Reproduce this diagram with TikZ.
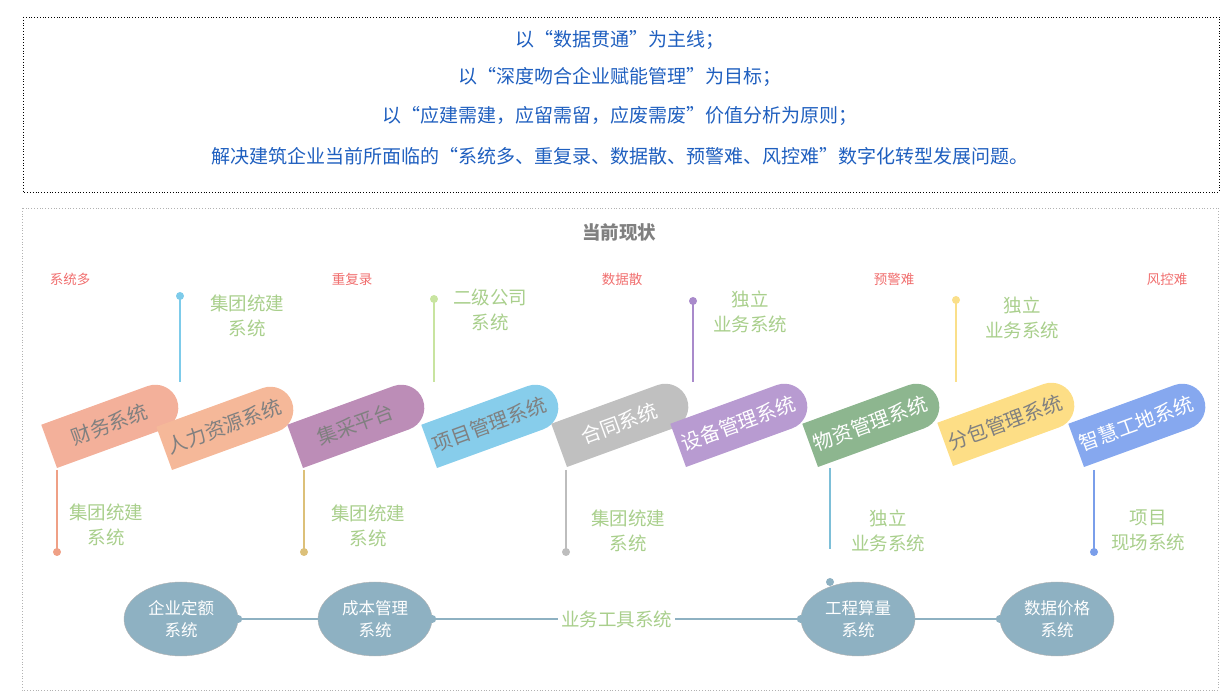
\documentclass[tikz,border=0pt]{standalone}
\usepackage{fontspec}
\usetikzlibrary{shapes.geometric}
\setmainfont{Noto Sans CJK SC}
\begin{document}
\begin{tikzpicture}[x=1pt,y=1pt,
  lbl/.style={text=lgreen,font=\fontsize{18.5}{25}\selectfont,align=center},
  red/.style={text=redc,font=\fontsize{13.5}{16}\selectfont},
  ell/.style={ellipse,draw=gray!60,fill=ellc,minimum width=114,minimum height=74,align=center,font=\fontsize{16.5}{22}\selectfont,text=white,inner sep=0},
  dot/.style={circle,fill=#1,inner sep=0,minimum size=8}]
\definecolor{lgreen}{HTML}{A9CF8C}
\definecolor{redc}{HTML}{F06E6E}
\definecolor{ellc}{HTML}{8EB1C2}
\definecolor{bluet}{HTML}{1F5FBF}
\definecolor{c1}{HTML}{F3B09A}\definecolor{c2}{HTML}{F5B899}\definecolor{c3}{HTML}{BC8DB7}
\definecolor{c4}{HTML}{87CDEB}\definecolor{c5}{HTML}{C0C0C0}\definecolor{c6}{HTML}{B89BD1}
\definecolor{c7}{HTML}{8DB68F}\definecolor{c8}{HTML}{FDDE86}\definecolor{c9}{HTML}{86A8EF}
\definecolor{l1}{HTML}{7DCBEA}\definecolor{l2}{HTML}{C8E4A0}\definecolor{l3}{HTML}{A98ACB}\definecolor{l4}{HTML}{FADF8A}
\definecolor{b1}{HTML}{EFA086}\definecolor{b2}{HTML}{DCC079}\definecolor{b3}{HTML}{BDBDBD}\definecolor{b4}{HTML}{7DBFD8}\definecolor{b5}{HTML}{7A9EEA}
\useasboundingbox (0,0) rectangle (1228,700);
\newcommand\pill[6]{%
 \begin{scope}[shift={(#1,{700-#2})},rotate=20]
  \fill[#3] (0,0) -- (113,0) arc[start angle=-90,end angle=90,radius=23] -- (0,46) -- cycle;
  \node[text=#4,font=\fontsize{20}{22}\selectfont,rotate=20,inner sep=0] (#6) at (64,23) {#5};
 \end{scope}}
% top box
\draw[dotted,thick] (23,683) rectangle (1219,508);
\foreach \t/\y in {以“数据贯通”为主线；/40,以“深度吻合企业赋能管理”为目标；/77,以“应建需建，应留需留，应废需废”价值分析为原则；/116,解决建筑企业当前所面临的“系统多、重复录、数据散、预警难、风控难”数字化转型发展问题。/156}
  \node[text=bluet,font=\fontsize{19}{22}\selectfont] at (620,700-\y) {\t};
% lower box
\draw[dotted,gray!60,thick] (22,492) rectangle (1218,10);
\node[text=gray,font=\bfseries\fontsize{18.5}{22}\selectfont] (title) at (619,468) {当前现状};
\foreach \t/\x in {系统多/70,重复录/352,数据散/622,预警难/894,风控难/1167}
  \node[red] at (\x,421) {\t};
% top lines
\foreach \x/\y/\c in {180/296/l1,434/299/l2,693/301/l3,956/300/l4}{
  \draw[\c,line width=1.3] (\x,700-\y) -- (\x,700-382);
  \node[dot=\c] at (\x,700-\y) {};}
\node[lbl] (t1) at (247,384) {集团统建\\系统};
\node[lbl] (t2) at (490,390) {二级公司\\系统};
\node[lbl] (t3) at (750,388) {独立\\业务系统};
\node[lbl] (t4) at (1022,382) {独立\\业务系统};
% bottom lines
\foreach \x/\y/\c in {57/552/b1,304/552/b2,566/552/b3,1094/552/b5}{
  \draw[\c,line width=1.3] (\x,700-470) -- (\x,700-\y);
  \node[dot=\c] at (\x,700-\y) {};}
\draw[b4,line width=1.3] (830,700-468) -- (830,700-549);
\node[lbl] (u1) at (106,175) {集团统建\\系统};
\node[lbl] (u2) at (368,174) {集团统建\\系统};
\node[lbl] (u3) at (628,169) {集团统建\\系统};
\node[lbl] (u4) at (888,169) {独立\\业务系统};
\node[lbl] (u5) at (1148,170) {项目\\现场系统};
% pills
\pill{57}{468}{c1}{gray}{财务系统}{p1}
\pill{172}{470}{c2}{gray}{人力资源系统}{p2}
\pill{303}{468}{c3}{gray}{集采平台}{p3}
\pill{437}{468}{c4}{gray}{项目管理系统}{p4}
\pill{567}{467}{c5}{white}{合同系统}{p5}
\pill{686}{467}{c6}{white}{设备管理系统}{p6}
\pill{818}{467}{c7}{white}{物资管理系统}{p7}
\pill{953}{466}{c8}{gray}{分包管理系统}{p8}
\pill{1084}{467}{c9}{white}{智慧工地系统}{p9}
% ellipses
\node[ell] (e1) at (181,81) {企业定额\\系统};
\node[ell] (e2) at (375,81) {成本管理\\系统};
\node[ell] (e3) at (858,81) {工程算量\\系统};
\node[ell] (e4) at (1057,81) {数据价格\\系统};
\draw[ellc,line width=1.3] (e1.east) -- (e2.west);
\draw[ellc,line width=1.3] (e2.east) -- (e3.west) node[pos=0.5,fill=white,text=lgreen,font=\fontsize{18.5}{22}\selectfont] (tool) {业务工具系统};
\draw[ellc,line width=1.3] (e3.east) -- (e4.west);
\foreach \p in {e1.east,e2.east,e3.west,e4.west} \node[dot=ellc] at (\p) {};
\node[dot=ellc] at (830,118) {};
\end{tikzpicture}
\end{document}
